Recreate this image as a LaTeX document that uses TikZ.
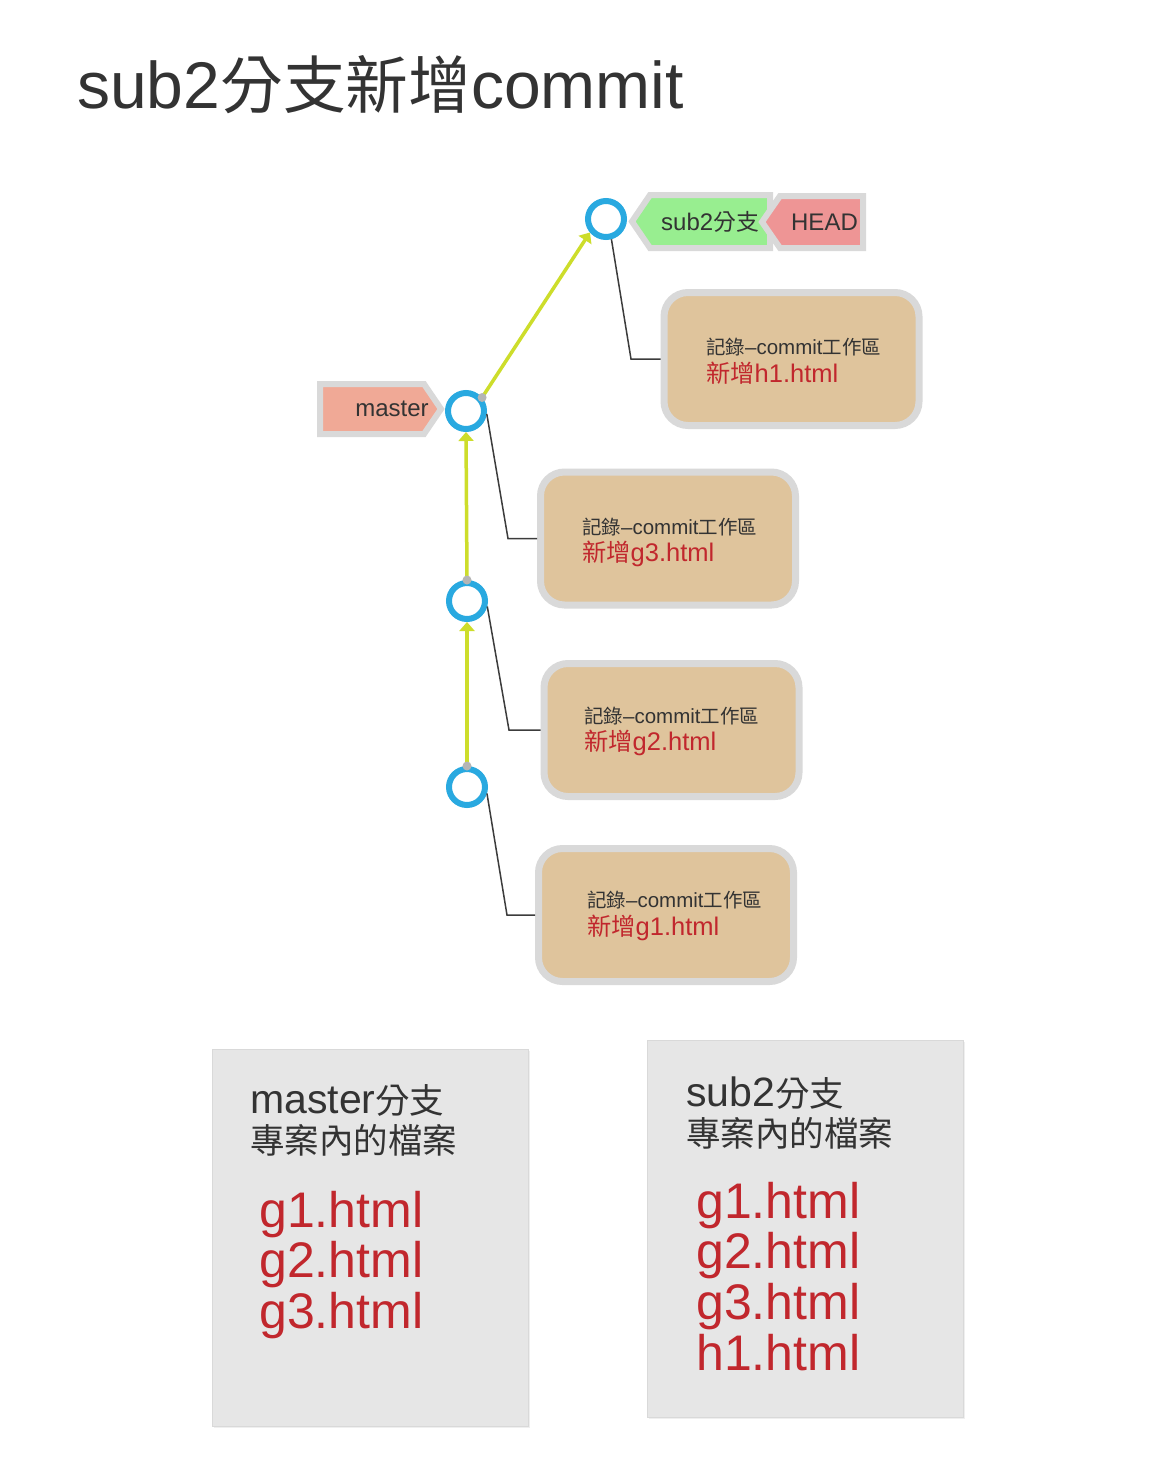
\documentclass[tikz,border=0pt]{standalone}
\usepackage{fontspec}
\setmainfont{Liberation Sans}
\newfontfamily\cjkfont[Scale=0.95]{Noto Sans CJK TC}
\newcommand{\zh}[1]{{\cjkfont #1}}
\usetikzlibrary{arrows.meta,shadows}
\definecolor{txt}{HTML}{333333}
\definecolor{redtxt}{HTML}{C1272D}
\definecolor{cblue}{HTML}{29A9E0}
\definecolor{limegreen}{HTML}{CDDD2B}
\definecolor{boxtan}{HTML}{DFC49C}
\definecolor{bordergray}{HTML}{D9D9D9}
\definecolor{panelgray}{HTML}{E6E6E6}
\definecolor{salmon}{HTML}{F0A996}
\definecolor{taggreen}{HTML}{98EE90}
\definecolor{headred}{HTML}{EE9595}
\definecolor{dotgray}{HTML}{B5B5B5}
\definecolor{linkgray}{HTML}{3C3C3C}
\begin{document}
\begin{tikzpicture}[x=1pt,y=-1pt,
  commit/.style={circle, draw=cblue, line width=6, minimum size=36, inner sep=0},
  garrow/.style={draw=limegreen, line width=3.5, -{Triangle[length=9pt,width=15pt]}},
  link/.style={draw=linkgray, line width=1.5},
  commitbox/.style={rectangle, rounded corners=24, draw=bordergray, line width=7, fill=boxtan, minimum width=255, minimum height=133},
  tagshape/.style={draw=bordergray, line width=6, line join=miter},
  tagtext/.style={inner sep=0, text=txt, font=\fontsize{24}{24}\selectfont},
  darkline/.style={anchor=base west, inner sep=0, text=txt, font=\fontsize{20.5}{20.5}\selectfont},
  redline/.style={anchor=base west, inner sep=0, text=redtxt, font=\fontsize{25.5}{25.5}\selectfont},
  panel/.style={rectangle, fill=panelgray, draw=bordergray, line width=1, minimum width=316, minimum height=377, drop shadow={shadow xshift=1.5pt, shadow yshift=-1.5pt, opacity=0.12}},
  panelhead/.style={anchor=base west, inner sep=0, text=txt, font=\fontsize{41}{41}\selectfont},
  panelfile/.style={anchor=base west, inner sep=0, text=redtxt, font=\fontsize{50}{50}\selectfont}
]
\useasboundingbox (0,0) rectangle (1151,1475);
\fill[white] (0,0) rectangle (1151,1475);

% title
\node[anchor=base west, inner sep=0, text=txt, font=\fontsize{66}{66}\selectfont] (title) at (77,108) {sub2\zh{分支新增}commit};

% commit boxes
\node[commitbox] (b1) at (666,915) {};
\node[commitbox] (b2) at (671.5,730) {};
\node[commitbox] (b3) at (668,538.5) {};
\node[commitbox] (b4) at (791.5,359) {};

\node[darkline] (b1a) at (587,907) {\zh{記錄}–commit\zh{工作區}};
\node[redline]  (b1b) at (587,935) {\zh{新增}g1.html};
\node[darkline] (b2a) at (584,723) {\zh{記錄}–commit\zh{工作區}};
\node[redline]  (b2b) at (584,750) {\zh{新增}g2.html};
\node[darkline] (b3a) at (582,534) {\zh{記錄}–commit\zh{工作區}};
\node[redline]  (b3b) at (582,561) {\zh{新增}g3.html};
\node[darkline] (b4a) at (706,354) {\zh{記錄}–commit\zh{工作區}};
\node[redline]  (b4b) at (706,382) {\zh{新增}h1.html};

% commits
\node[commit] (c1) at (467,787) {};
\node[commit] (c2) at (467,601) {};
\node[commit] (c3) at (466,411) {};
\node[commit] (c4) at (606,219) {};

% links commit -> box
\coordinate (k1) at (507,915);
\coordinate (k2) at (509,730);
\coordinate (k3) at (508,538.5);
\coordinate (k4) at (631,359);
\draw[link] (c1.-18) -- (k1) -- (b1.west);
\draw[link] (c2.-15) -- (k2) -- (b2.west);
\draw[link] (c3.-8) -- (k3) -- (b3.west);
\draw[link] (c4.-75) -- (k4) -- (b4.west);

% parent arrows
\draw[garrow] (c1.north) -- (c2.south);
\draw[garrow] (c2.north) -- (c3.south);
\draw[garrow] (c3.40) -- (c4.220);
\fill[dotgray] (c1.north) circle (4.5);
\fill[dotgray] (c2.north) circle (4.5);
\fill[dotgray] (c3.40) circle (4.5);

% tags
\path[tagshape, fill=salmon] (320,384) -- (424,384) -- (441,409) -- (424,434) -- (320,434) -- cycle;
\node[tagtext] (tmaster) at (392,409) {master};

\path[tagshape, fill=taggreen] (770,195) -- (650,195) -- (632,221.5) -- (650,248) -- (770,248) -- cycle;
\node[tagtext] (tsub) at (710,222) {sub2\zh{分支}};

\path[tagshape, fill=headred] (863,196) -- (780,196) -- (762,222) -- (780,248) -- (863,248) -- cycle;
\node[tagtext] (thead) at (824.5,222) {HEAD};

% panels
\node[panel] (p1) at (370,1238) {};
\node[panel] (p2) at (805,1229) {};

\node[panelhead] (p1h1) at (250,1113) {master{\fontsize{36.3}{36.3}\selectfont\zh{分支}}};
\node[panelhead] (p1h2) at (250,1153) {\fontsize{36.3}{36.3}\selectfont\zh{專案內的檔案}};
\node[panelfile] (p1f1) at (259,1227) {g1.html};
\node[panelfile] (p1f2) at (259,1277) {g2.html};
\node[panelfile] (p1f3) at (259,1328) {g3.html};

\node[panelhead] (p2h1) at (686,1106) {sub2{\fontsize{36.3}{36.3}\selectfont\zh{分支}}};
\node[panelhead] (p2h2) at (686,1146) {\fontsize{36.3}{36.3}\selectfont\zh{專案內的檔案}};
\node[panelfile] (p2f1) at (696,1218) {g1.html};
\node[panelfile] (p2f2) at (696,1268) {g2.html};
\node[panelfile] (p2f3) at (696,1319) {g3.html};
\node[panelfile] (p2f4) at (696,1370) {h1.html};
\end{tikzpicture}
\end{document}
